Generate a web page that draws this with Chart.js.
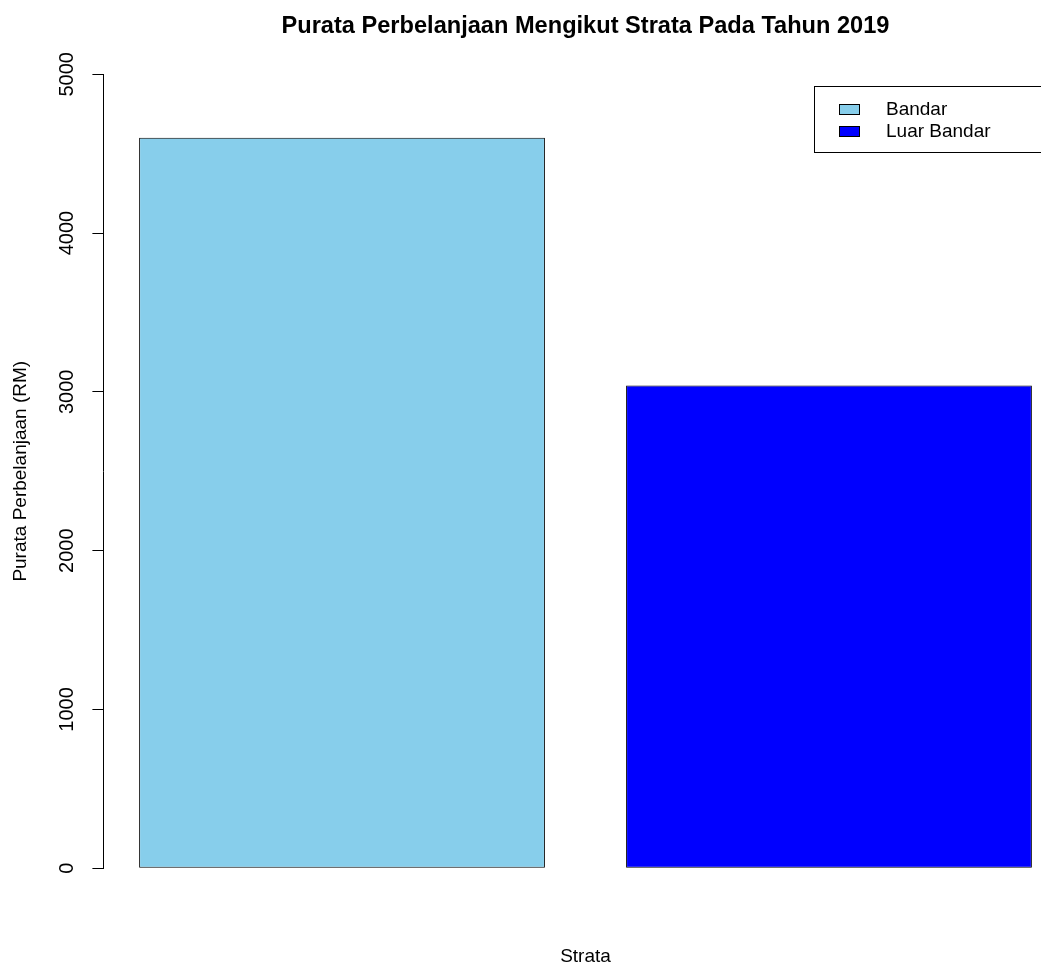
<!DOCTYPE html>
<html>
<head>
<meta charset="utf-8">
<script src="https://cdn.jsdelivr.net/npm/chart.js@4"></script>
<style>
  html, body { margin: 0; padding: 0; background: #fff; overflow: hidden; }
  #wrap { width: 1170px; height: 968px; }
</style>
</head>
<body>
<div id="wrap"><canvas id="strataChart" width="1170" height="968"></canvas></div>
<script>
// purata perbelanjaan ikut strata, 2019
var strata = ['Bandar', 'Luar Bandar'];
var purata = [4600, 3040];
var warna = ['#87CEEB', '#0000FF'];
var yTicks = [0, 1000, 2000, 3000, 4000, 5000];

var fontFamily = '"Liberation Sans", Arial, sans-serif';

// tajuk di tengah kawasan plot (macam R), bukan tengah kanvas
var tajukTengah = {
  id: 'tajukTengah',
  afterLayout: function (chart) {
    var t = chart.titleBlock;
    if (!t) return;
    t.left = chart.chartArea.left;
    t.right = chart.chartArea.right;
    t.width = t.right - t.left;
  }
};

// kotak legend ala R (di dalam kawasan plot, kanan atas)
var legendR = {
  id: 'legendR',
  afterDraw: function (chart) {
    var ctx = chart.ctx;
    var area = chart.chartArea;
    var left = 814, top = 86.5, bottom = 152.5, right = area.right;
    ctx.save();
    ctx.lineWidth = 1;
    ctx.strokeStyle = '#000';
    ctx.strokeRect(left + 0.5, top, right - left, bottom - top);
    ctx.font = '19px ' + fontFamily;
    ctx.textBaseline = 'middle';
    ctx.textAlign = 'left';
    for (var i = 0; i < strata.length; i++) {
      var cy = 109.5 + i * 22;
      ctx.fillStyle = warna[i];
      ctx.fillRect(839.5, cy - 5, 20, 10);
      ctx.strokeRect(839.5, cy - 5, 20, 10);
      ctx.fillStyle = '#000';
      ctx.fillText(strata[i], 886, cy);
    }
    ctx.restore();
  }
};

var ctx = document.getElementById('strataChart').getContext('2d');
var myChart = new Chart(ctx, {
  type: 'bar',
  data: {
    datasets: [{
      label: 'Purata Perbelanjaan',
      data: purata.map(function (v, i) { return { x: i, y: v }; }),
      backgroundColor: warna,
      borderColor: '#000',
      borderWidth: 1,
      borderSkipped: false,
      barPercentage: 1 / 1.2,
      categoryPercentage: 1
    }]
  },
  options: {
    responsive: false,
    animation: false,
    layout: { padding: { left: 0, right: 102.4, top: 0, bottom: 0 } },
    plugins: {
      legend: { display: false },
      tooltip: { enabled: false },
      title: {
        display: true,
        text: 'Purata Perbelanjaan Mengikut Strata Pada Tahun 2019',
        color: '#000',
        font: { family: fontFamily, size: 23.6, weight: 'bold' },
        padding: { top: 12, bottom: 34 }
      }
    },
    scales: {
      x: {
        type: 'linear',
        offset: false,
        min: -0.49,
        max: 1.49,
        afterBuildTicks: function (axis) {
          axis.ticks = strata.map(function (s, i) { return { value: i }; });
        },
        ticks: { display: false },
        grid: { display: false, drawTicks: false },
        border: { display: false },
        title: {
          display: true,
          text: 'Strata',
          color: '#000',
          font: { family: fontFamily, size: 19 },
          padding: { top: 77, bottom: 0 }
        }
      },
      y: {
        min: 0,
        max: 5000,
        afterBuildTicks: function (axis) {
          axis.ticks = yTicks.map(function (v) { return { value: v }; });
        },
        ticks: {
          minRotation: 90,
          maxRotation: 90,
          crossAlign: 'center',
          padding: 3,
          color: '#000',
          font: { family: fontFamily, size: 20 },
          callback: function (v) { return String(v); }
        },
        grid: {
          display: true,
          drawOnChartArea: false,
          drawTicks: true,
          tickLength: 11,
          color: '#000'
        },
        border: { display: true, color: '#000', width: 1 },
        title: {
          display: true,
          text: 'Purata Perbelanjaan (RM)',
          color: '#000',
          font: { family: fontFamily, size: 19 },
          padding: { top: 9, bottom: 30.6 }
        }
      }
    }
  },
  plugins: [tajukTengah, legendR]
});
</script>
</body>
</html>
